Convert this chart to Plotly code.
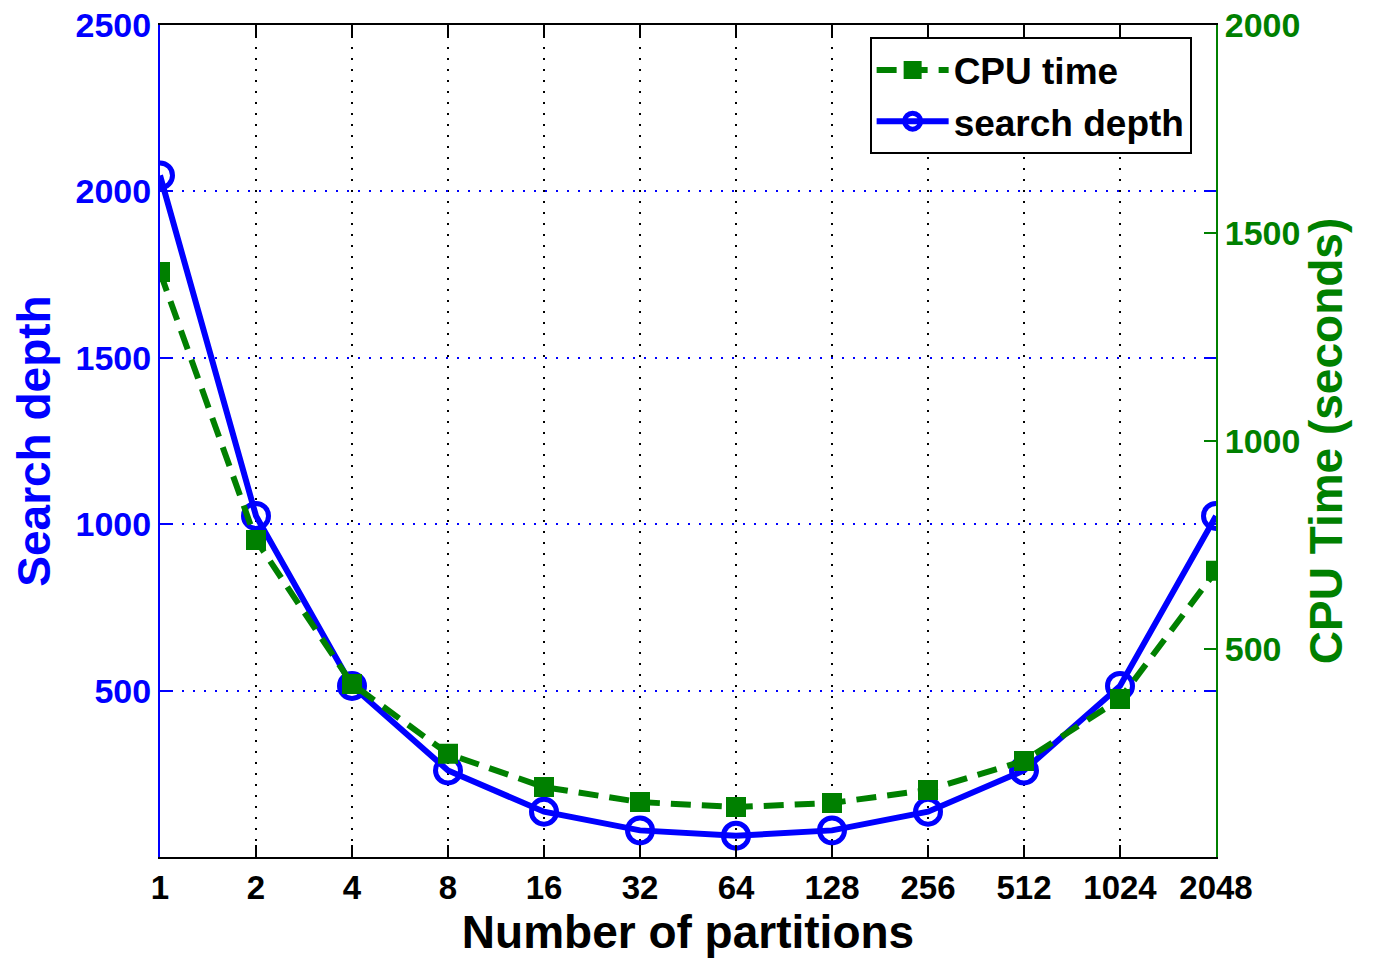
import plotly.graph_objects as go

partitions = ["1", "2", "4", "8", "16", "32", "64", "128", "256", "512", "1024", "2048"]
search_depth = [2048, 1025, 514, 260, 136, 80, 64, 80, 136, 260, 514, 1025]
cpu_time = [1406, 762, 416, 248, 168, 132, 120, 130, 161, 231, 380, 688]
left_ticks = [500, 1000, 1500, 2000, 2500]
right_ticks = [500, 1000, 1500, 2000]

BLUE = "#0000FF"
GREEN = "#008000"
FONT = "Liberation Sans, Arial, sans-serif"

fig = go.Figure()
fig.add_trace(go.Scatter(
    x=partitions, y=cpu_time, name="<b>CPU time</b>", yaxis="y2",
    mode="lines+markers",
    line=dict(color=GREEN, width=6, dash="20px,11px"),
    marker=dict(symbol="square", size=18, color=GREEN, line=dict(color=GREEN, width=2)),
))
fig.add_trace(go.Scatter(
    x=partitions, y=search_depth, name="<b>search depth</b>", yaxis="y",
    mode="lines+markers",
    line=dict(color=BLUE, width=6),
    marker=dict(symbol="circle-open", size=25, color=BLUE, line=dict(color=BLUE, width=5)),
))

fig.update_layout(
    width=1376, height=958,
    margin=dict(l=160, r=160, t=25, b=101, autoexpand=False),
    paper_bgcolor="white", plot_bgcolor="white",
    font=dict(family=FONT, size=34, color="black"),
    showlegend=True,
    legend=dict(
        x=0.672, y=0.985, xanchor="left", yanchor="top",
        bgcolor="white", bordercolor="black", borderwidth=2,
        font=dict(family=FONT, size=37, color="black"),
        itemwidth=72, tracegroupgap=0,
    ),
    xaxis=dict(
        type="category", range=[0, 11], automargin=False,
        showline=True, linecolor="black", linewidth=2, mirror="ticks",
        ticks="inside", ticklen=12, tickcolor="black", tickwidth=2,
        showgrid=True, gridcolor="black", griddash="2px,9px", gridwidth=1.5,
        tickfont=dict(family=FONT, size=33, color="black"),
        title=dict(text="<b>Number of partitions</b>", font=dict(family=FONT, size=46, color="black"), standoff=10),
        zeroline=False,
    ),
    yaxis=dict(
        range=[0, 2500], tickvals=left_ticks, ticktext=["<b>%d</b>" % v for v in left_ticks],
        automargin=False,
        showline=True, linecolor=BLUE, linewidth=2, mirror="ticks",
        ticks="inside", ticklen=12, tickcolor=BLUE, tickwidth=2,
        showgrid=True, gridcolor=BLUE, griddash="2px,9px", gridwidth=1.5,
        tickfont=dict(family=FONT, size=34, color=BLUE),
        title=dict(text="<b>Search depth</b>", font=dict(family=FONT, size=46, color=BLUE), standoff=10),
        zeroline=False,
    ),
    yaxis2=dict(
        overlaying="y", side="right", range=[0, 2000], automargin=False,
        tickvals=right_ticks, ticktext=["<b>%d</b>" % v for v in right_ticks],
        showline=True, linecolor=GREEN, linewidth=2,
        ticks="inside", ticklen=12, tickcolor=GREEN, tickwidth=2,
        showgrid=False, zeroline=False,
        tickfont=dict(family=FONT, size=34, color=GREEN),
        title=dict(text="<b>CPU Time (seconds)</b>", font=dict(family=FONT, size=46, color=GREEN), standoff=10),
    ),
)
fig.update_xaxes(ticktext=["<b>%s</b>" % p for p in partitions], tickvals=partitions)

fig.write_html("out.html")
